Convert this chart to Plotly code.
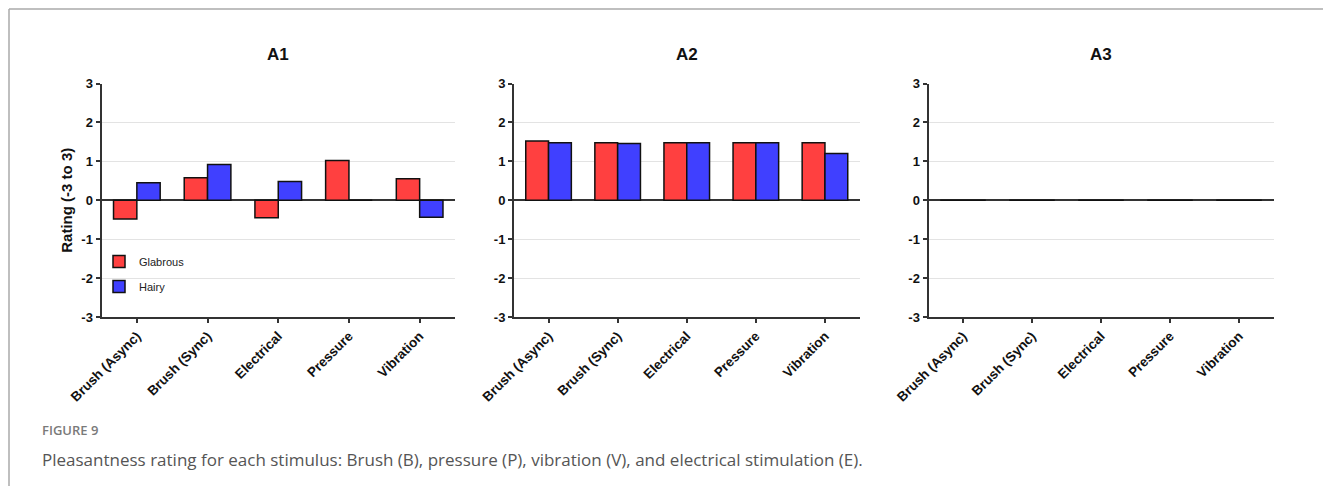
import plotly.graph_objects as go

W, H = 1323, 486

categories = ["Brush (Async)", "Brush (Sync)", "Electrical", "Pressure", "Vibration"]
panel_titles = ["A1", "A2", "A3"]

a1_glabrous = [-0.48, 0.58, -0.45, 1.02, 0.55]
a1_hairy = [0.45, 0.92, 0.48, 0.0, -0.44]
a2_glabrous = [1.52, 1.48, 1.48, 1.48, 1.48]
a2_hairy = [1.48, 1.46, 1.48, 1.48, 1.20]
a3_glabrous = [0, 0, 0, 0, 0]
a3_hairy = [0, 0, 0, 0, 0]

y_ticks = [-3, -2, -1, 0, 1, 2, 3]
y_tick_labels = ["-3", "-2", "-1", "0", "1", "2", "3"]
series_names = ["Glabrous", "Hairy"]
series_colors = ["#FF4040", "#4040FF"]

caption_label = "FIGURE 9"
caption_text = "Pleasantness rating for each stimulus: Brush (B), pressure (P), vibration (V), and electrical stimulation (E)."
y_title = "Rating (-3 to 3)"

panels = [(a1_glabrous, a1_hairy), (a2_glabrous, a2_hairy), (a3_glabrous, a3_hairy)]
x_px = [(101.5, 455), (514, 859.5), (928.5, 1273.5)]
y_top, y_bot = 83.5, 317

FONT = "Liberation Sans"

fig = go.Figure()
for i, (g, h) in enumerate(panels):
    sfx = "" if i == 0 else str(i + 1)
    for name, vals, col in zip(series_names, (g, h), series_colors):
        fig.add_trace(go.Bar(
            x=categories, y=vals, name=name,
            marker=dict(color=col, line=dict(color="#111111", width=1.5)),
            xaxis="x" + sfx, yaxis="y" + sfx,
            showlegend=(i == 0), legendgroup=name,
        ))

layout = dict(
    width=W, height=H,
    margin=dict(l=0, r=0, t=0, b=0, autoexpand=False),
    paper_bgcolor="white", plot_bgcolor="white",
    barmode="group", bargap=0.34, bargroupgap=0,
    showlegend=True,
    legend=dict(x=99 / W, y=1 - 247 / H, xanchor="left", yanchor="top",
                font=dict(family=FONT, size=11, color="#222222"),
                bgcolor="rgba(0,0,0,0)", tracegroupgap=6, itemwidth=30),
    annotations=[], shapes=[],
)
for i in range(3):
    sfx = "" if i == 0 else str(i + 1)
    x0, x1 = x_px[i]
    layout["xaxis" + sfx] = dict(
        domain=[x0 / W, x1 / W], anchor="y" + sfx, automargin=False,
        range=[-0.5, 4.5], type="category",
        showline=True, linecolor="#333333", linewidth=2,
        ticks="outside", ticklen=4, tickwidth=1.5, tickcolor="#333333",
        tickangle=-45, tickfont=dict(family=FONT, size=13.5, color="#111111", weight="bold"),
        showgrid=False, zeroline=False,
    )
    layout["yaxis" + sfx] = dict(
        domain=[1 - y_bot / H, 1 - y_top / H], anchor="x" + sfx, automargin=False,
        range=[-3, 3], tickvals=y_ticks, ticktext=y_tick_labels,
        showline=True, linecolor="#333333", linewidth=2,
        ticks="outside", ticklen=4, tickwidth=1.5, tickcolor="#333333",
        tickfont=dict(family=FONT, size=13, color="#111111", weight="bold"),
        showgrid=True, gridcolor="#e3e3e3", gridwidth=1,
        zeroline=True, zerolinecolor="#333333", zerolinewidth=1.5,
    )
    layout["annotations"].append(dict(
        text="<b>%s</b>" % panel_titles[i], x=(x0 + x1) / 2 / W, y=1 - 55 / H,
        xref="paper", yref="paper", showarrow=False, xanchor="center", yanchor="middle",
        font=dict(family=FONT, size=17, color="#111111"),
    ))
layout["yaxis"]["title"] = dict(text="<b>%s</b>" % y_title, standoff=5,
                                font=dict(family=FONT, size=15, color="#111111"))

layout["annotations"] += [
    dict(text=caption_label, x=40 / W, y=1 - 430 / H, xref="paper", yref="paper", showarrow=False,
         xanchor="left", yanchor="middle",
         font=dict(family="Open Sans", size=13, color="#7a7a7a", weight=600)),
    dict(text=caption_text, x=40 / W, y=1 - 459 / H, xref="paper", yref="paper", showarrow=False,
         xanchor="left", yanchor="middle",
         font=dict(family="Open Sans", size=17, color="#555555")),
]
layout["shapes"] += [
    dict(type="line", xref="paper", yref="paper", x0=9 / W, x1=1, y0=1 - 9 / H, y1=1 - 9 / H,
         line=dict(color="#aaaaaa", width=1.5)),
    dict(type="line", xref="paper", yref="paper", x0=9 / W, x1=9 / W, y0=0, y1=1 - 9 / H,
         line=dict(color="#aaaaaa", width=1.5)),
]

fig.update_layout(**layout)
fig.write_html("out.html")
